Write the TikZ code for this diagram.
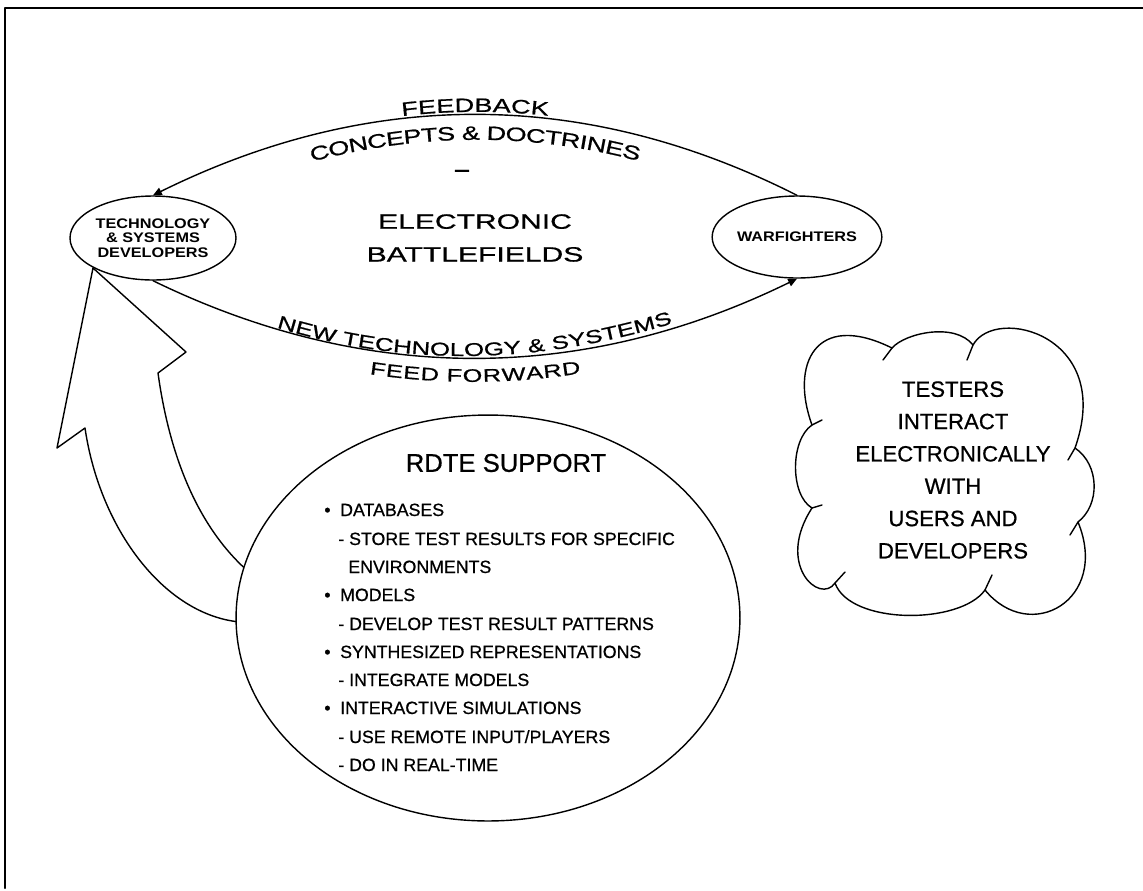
\documentclass[tikz,border=0pt]{standalone}
\usepackage{fontspec}
\setmainfont[FakeBold=0.7]{Liberation Sans}
\newfontfamily\widefont[FakeStretch=1.45,FakeBold=0.8]{Liberation Sans}
\newfontfamily\arcfont[FakeStretch=1.4,FakeBold=0.8]{Liberation Sans}
\newfontfamily\labfont[FakeStretch=1.17]{Liberation Sans}
\usetikzlibrary{shapes.geometric,arrows.meta,decorations.text}
\tikzset{
  geom/.style={draw=black, line width=0.8pt},
  frameline/.style={draw=black, line width=1.3pt},
  flow/.style={draw=black, line width=0.8pt, -{Triangle[length=5pt,width=4.5pt]}},
  oval/.style={ellipse, draw=black, line width=0.8pt, fill=white, inner sep=0pt},
  lab/.style={font=\labfont\bfseries\fontsize{7.9}{8.2}\selectfont, align=center},
  title/.style={font=\widefont\fontsize{11.8}{18.7}\selectfont, align=center},
  item/.style={anchor=base west, inner sep=0pt, font=\fontsize{10.1}{12}\selectfont},
  cloudtext/.style={font=\fontsize{12.6}{18.4}\selectfont, align=center},
  arctext/.style={decorate, decoration={text along path, text align=center, raise=#1}}
}

\begin{document}
\begin{tikzpicture}[x=0.02cm, y=-0.02cm, line cap=round, line join=round]
  \useasboundingbox (0,0) rectangle (1143,890);
  % frame
  \draw[frameline] (1143,8) -- (5,8) -- (5,888);

  % big curved arrow behind the support oval
  \draw[geom, fill=white] (93,268) -- (57,448) -- (85,428)
    .. controls (100,530) and (165,615) .. (240,622) -- (300,610) -- (250,573)
    .. controls (200,530) and (170,460) .. (158,373) -- (186,352) -- cycle;

  % the two parties
  \node[oval, minimum width=3.32cm, minimum height=1.68cm, lab] (tech) at (153,238)
    {TECHNOLOGY\\\& SYSTEMS\\DEVELOPERS};
  \node[oval, minimum width=3.3cm, minimum height=1.64cm, lab] (war) at (797,237)
    {WARFIGHTERS};

  % feedback and feed forward loops
  \draw[flow] (war.north) .. controls (585,88) and (370,88) .. (tech.north);
  \draw[flow] (tech.south) .. controls (365,384) and (582,384) .. (war.south);
  \path[arctext=1.7pt, decoration={text={|\arcfont\fontsize{11}{13}\selectfont|FEEDBACK}}]
    (tech.north) .. controls (370,88) and (585,88) .. (war.north);
  \path[arctext=-14.2pt, decoration={text={|\arcfont\fontsize{11}{13}\selectfont|CONCEPTS {\&} DOCTRINES}}]
    (tech.north) .. controls (370,88) and (585,88) .. (war.north);
  \path[arctext=1.1pt, decoration={text={|\arcfont\fontsize{10.5}{13}\selectfont|NEW TECHNOLOGY {\&} SYSTEMS}}]
    (tech.south) .. controls (365,384) and (560,384) .. (war.south);
  \path[arctext=-13.6pt, decoration={text={|\arcfont\fontsize{10.3}{13}\selectfont|FEED FORWARD}}]
    (tech.south) .. controls (365,384) and (582,384) .. (war.south);

  \node[font=\widefont\bfseries\fontsize{11}{13}\selectfont] (dash) at (462,173) {–};
  \node[title] (ebf) at (475,238) {ELECTRONIC\\BATTLEFIELDS};

  % RDTE support
  \node[oval, minimum width=10.08cm, minimum height=8.12cm] (rdte) at (488,618) {};
  \node[font=\fontsize{14.6}{16}\selectfont] (rdtetitle) at (506,463) {RDTE SUPPORT};
  \node[item] (db) at (324,516) {\textbullet\hspace{5.5pt}DATABASES};
  \node[item] (dbsub) at (338,545) {- STORE TEST RESULTS FOR SPECIFIC};
  \node[item] (dbsubb) at (348,573) {ENVIRONMENTS};
  \node[item] (md) at (324,601) {\textbullet\hspace{5.5pt}MODELS};
  \node[item] (mdsub) at (338,630) {- DEVELOP TEST RESULT PATTERNS};
  \node[item] (sr) at (324,658) {\textbullet\hspace{5.5pt}SYNTHESIZED REPRESENTATIONS};
  \node[item] (srsub) at (338,686) {- INTEGRATE MODELS};
  \node[item] (is) at (324,714) {\textbullet\hspace{5.5pt}INTERACTIVE SIMULATIONS};
  \node[item] (issub) at (338,743) {- USE REMOTE INPUT/PLAYERS};
  \node[item] (issubb) at (338,771) {- DO IN REAL-TIME};

  % testers cloud
  \draw[geom] (812,425) .. controls (790,365) and (815,310) .. (892,348)
    .. controls (905,333) and (955,322) .. (973,345)
    .. controls (995,305) and (1115,335) .. (1075,448)
    .. controls (1100,465) and (1100,505) .. (1078,522)
    .. controls (1110,600) and (1030,645) .. (985,590)
    .. controls (960,625) and (850,625) .. (835,583)
    .. controls (820,605) and (775,565) .. (812,508)
    .. controls (790,495) and (790,440) .. cycle;
  \draw[geom] (883,360) -- (892,348);
  \draw[geom] (967,360) -- (973,345);
  \draw[geom] (1068,460) -- (1075,448);
  \draw[geom] (1070,535) -- (1078,522);
  \draw[geom] (992,575) -- (985,590);
  \draw[geom] (845,572) -- (835,583);
  \draw[geom] (822,505) -- (812,508);
  \draw[geom] (822,420) -- (812,425);
  \node[cloudtext] (testers) at (953,470)
    {TESTERS\\INTERACT\\ELECTRONICALLY\\WITH\\USERS AND\\DEVELOPERS};
\end{tikzpicture}
\end{document}
